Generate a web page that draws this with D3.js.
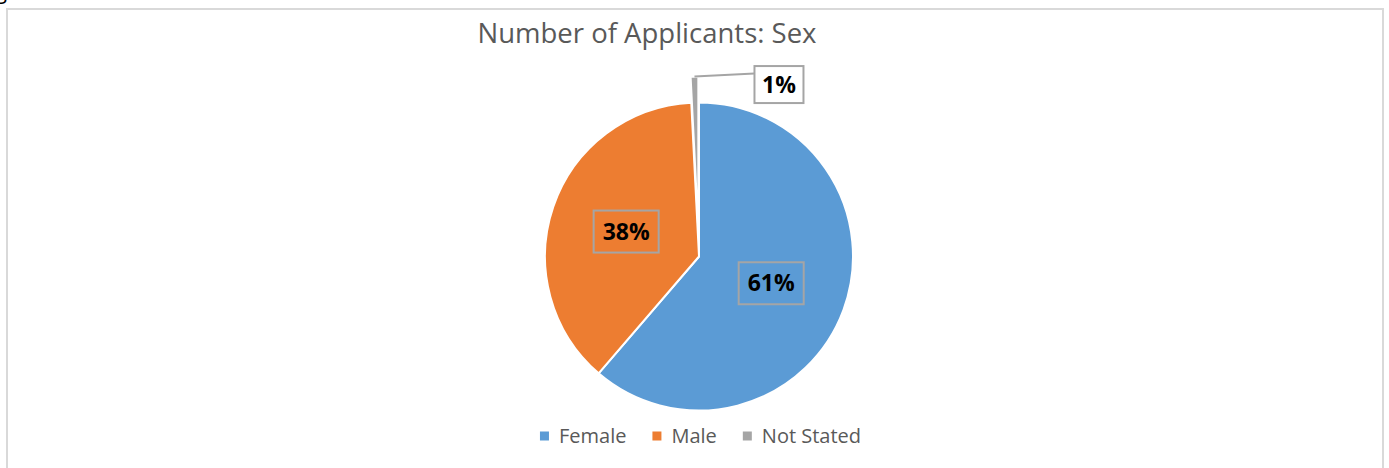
<!DOCTYPE html>
<html>
<head>
<meta charset="utf-8">
<script src="https://cdn.jsdelivr.net/npm/d3@7"></script>
<style>
  html, body { margin: 0; padding: 0; background: #ffffff; overflow: hidden; }
  svg { display: block; }
</style>
</head>
<body>
<svg id="chart" width="1389" height="468"></svg>
<script>
// ---- data ----
const categories = ["Female", "Male", "Not Stated"];
const values = [61.3, 37.9, 0.8];
const labels = ["61%", "38%", "1%"];
const colors = ["#5b9bd5", "#ed7d31", "#a5a5a5"];
const title = "Number of Applicants: Sex";

// ---- layout ----
const W = 1389, H = 468;
const font = "'Open Sans', 'Noto Sans', sans-serif";
const cx = 699, cy = 256.5, R = 154;
const explode = [0, 0, 26];

const svg = d3.select("#chart");

// caption fragment above the frame (cut off in the reference)
svg.append("text").attr("x", -5).attr("y", -1)
  .attr("font-family", font).attr("font-size", 22).attr("fill", "#000")
  .text("g");

// frame
svg.append("rect").attr("x", 7).attr("y", 9).attr("width", 1376).attr("height", H)
  .attr("fill", "#fff").attr("stroke", "#d9d9d9").attr("stroke-width", 2);

// title
svg.append("text").attr("x", 647).attr("y", 43)
  .attr("text-anchor", "middle")
  .attr("font-family", font).attr("font-size", 27.5).attr("fill", "#595959")
  .text(title);

// pie
const pie = d3.pie().sort(null).value(d => d.v);
const data = categories.map((c, i) => ({ c, v: values[i], i }));
const arcs = pie(data);
const arc = d3.arc().innerRadius(0).outerRadius(R);

const g = svg.append("g").attr("transform", `translate(${cx},${cy})`);

function offset(a) {
  const m = (a.startAngle + a.endAngle) / 2;
  const e = explode[a.data.i];
  return [Math.sin(m) * e, -Math.cos(m) * e];
}

g.selectAll("path.slice").data(arcs).enter().append("path")
  .attr("class", "slice")
  .attr("transform", d => { const o = offset(d); return `translate(${o[0]},${o[1]})`; })
  .attr("d", arc)
  .attr("fill", d => colors[d.data.i])
  .attr("stroke", "#ffffff").attr("stroke-width", 2).attr("stroke-linejoin", "round");

// labels
const labelFont = 23;
function boxLabel(parent, x, y, txt, fill) {
  const t = parent.append("text")
    .attr("x", x).attr("y", y + labelFont * 0.714 / 2)
    .attr("text-anchor", "middle")
    .attr("font-family", font).attr("font-weight", "bold")
    .attr("font-size", labelFont).attr("fill", "#000")
    .text(txt);
  const w = t.node().getComputedTextLength();
  parent.insert("rect", () => t.node())
    .attr("x", x - w / 2 - 9).attr("y", y - 21)
    .attr("width", w + 18).attr("height", 42)
    .attr("fill", fill).attr("stroke", "#a5a5a5").attr("stroke-width", 2);
}

arcs.forEach(a => {
  if (a.data.i < 2) {
    const c = arc.centroid(a);
    boxLabel(g, c[0], c[1], labels[a.data.i], "none");
  } else {
    // outside label with leader line
    const o = offset(a);
    const m = (a.startAngle + a.endAngle) / 2;
    const px = o[0] + Math.sin(m) * R, py = o[1] - Math.cos(m) * R;
    const lx = px + 60, ly = py - 3;
    g.append("line").attr("x1", px).attr("y1", py).attr("x2", lx).attr("y2", ly)
      .attr("stroke", "#a5a5a5").attr("stroke-width", 2);
    const bx = lx + 24.5, by = py + 8;
    const t = g.append("text")
      .attr("x", bx).attr("y", by + labelFont * 0.714 / 2)
      .attr("text-anchor", "middle")
      .attr("font-family", font).attr("font-weight", "bold")
      .attr("font-size", labelFont).attr("fill", "#000")
      .text(labels[a.data.i]);
    g.insert("rect", () => t.node())
      .attr("x", lx).attr("y", by - 18.5)
      .attr("width", 49).attr("height", 37)
      .attr("fill", "#fff").attr("stroke", "#a5a5a5").attr("stroke-width", 2);
  }
});

// legend
const legendFont = 20;
const lg = svg.append("g");
let xPos = 0;
categories.forEach((c, i) => {
  const item = lg.append("g");
  item.append("rect").attr("x", xPos).attr("y", -4.5).attr("width", 9).attr("height", 9)
    .attr("fill", colors[i]);
  const t = item.append("text").attr("x", xPos + 19).attr("y", legendFont * 0.714 / 2)
    .attr("font-family", font).attr("font-size", legendFont).attr("fill", "#595959")
    .text(c);
  const w = t.node().getComputedTextLength();
  xPos += 19 + w + 26;
});
const totalW = xPos - 26;
lg.attr("transform", `translate(${cx + 1.5 - totalW / 2}, 436)`);
</script>
</body>
</html>
